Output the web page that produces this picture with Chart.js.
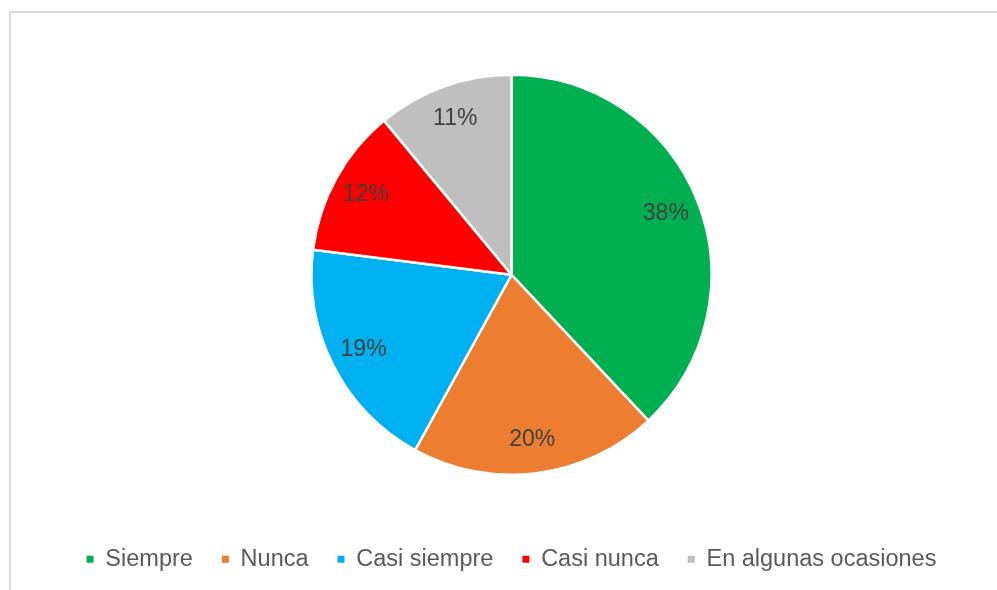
<!DOCTYPE html>
<html>
<head>
<meta charset="utf-8">
<script src="https://cdn.jsdelivr.net/npm/chart.js@4"></script>
<style>
body{margin:0;background:#fff;overflow:hidden;}
#frame{position:absolute;left:9px;top:11px;width:1100px;height:700px;border:2px solid #d9d9d9;}
#wrap{position:absolute;left:0;top:0;width:997px;height:590px;}
</style>
</head>
<body>
<div id="frame"></div>
<div id="wrap"><canvas id="pieChart"></canvas></div>
<script>
const categories=["Siempre","Nunca","Casi siempre","Casi nunca","En algunas ocasiones"];
const values=[38,20,19,12,11];
const colors=["#00B050","#ED7D31","#00B0F0","#FF0000","#BFBFBF"];

// percentage labels inside each slice, near the outer edge
const sliceLabels={
id:"sliceLabels",
afterDatasetsDraw(chart){
const ctx=chart.ctx;
const meta=chart.getDatasetMeta(0);
const total=values.reduce((a,b)=>a+b,0);
ctx.save();
ctx.font="23px 'Liberation Sans', Arial, sans-serif";
ctx.fillStyle="#404040";
ctx.textAlign="center";
ctx.textBaseline="middle";
meta.data.forEach((arc,i)=>{
const p=arc.getProps(["x","y","startAngle","endAngle","outerRadius"],true);
const mid=(p.startAngle+p.endAngle)/2;
const r=p.outerRadius*0.83;
ctx.fillText(Math.round(values[i]/total*100)+"%",p.x+Math.cos(mid)*r,p.y+Math.sin(mid)*r);
});
ctx.restore();
}
};

new Chart(document.getElementById("pieChart"),{
type:"pie",
data:{
labels:categories,
datasets:[{
data:values,
backgroundColor:colors,
borderColor:"#ffffff",
borderWidth:2.5
}]
},
options:{
responsive:true,
maintainAspectRatio:false,
animation:false,
radius:200,
layout:{padding:{left:26,right:0,top:31,bottom:9}},
plugins:{
tooltip:{enabled:false},
legend:{
position:"bottom",
labels:{
boxWidth:7,
boxHeight:7,
padding:29,
color:"#595959",
font:{family:"'Liberation Sans', Arial, sans-serif",size:23.5},
generateLabels(chart){
const items=Chart.overrides.pie.plugins.legend.labels.generateLabels(chart);
items.forEach(it=>{it.lineWidth=0;it.strokeStyle=it.fillStyle;});
return items;
}
}
}
}
},
plugins:[sliceLabels]
});
</script>
</body>
</html>
